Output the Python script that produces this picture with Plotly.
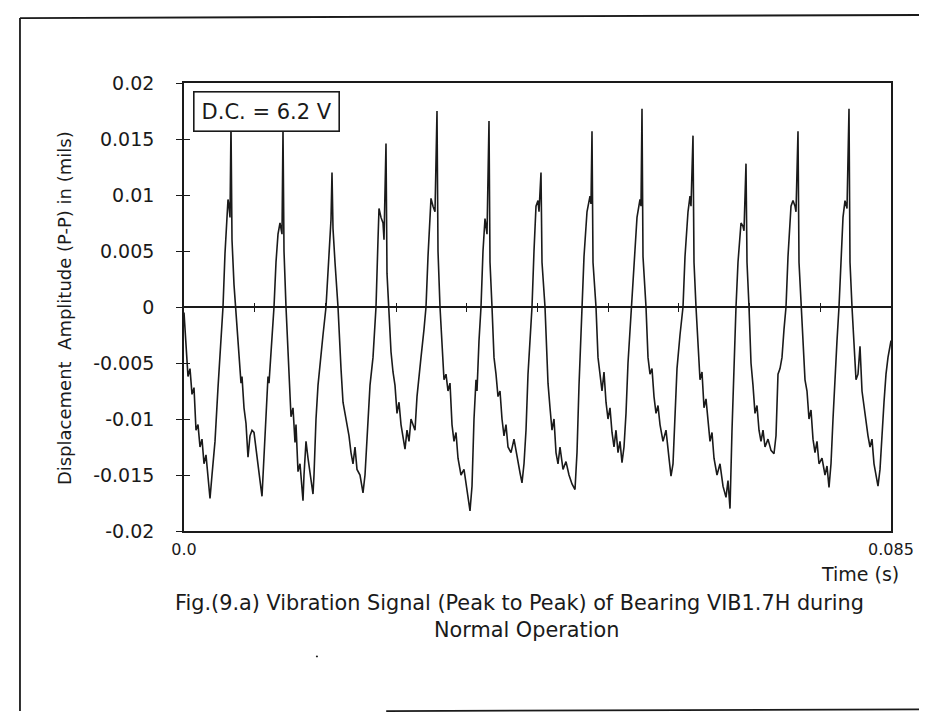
import plotly.graph_objects as go

# ---- data ----
DURATION = 0.085          # s, full record length
N_SAMPLES = 707           # sample index at end of record
SAMPLE_IDX = [0, 2, 4, 6, 8, 10, 12, 14, 16, 18, 20, 22, 24, 26, 28, 31, 34, 37, 39, 41, 43, 44, 45, 46, 47, 48, 50, 52, 54, 56, 57, 58, 60, 62, 64, 66, 68, 70, 72, 74, 76, 78, 79, 81, 83, 84, 85, 87, 90, 92, 94, 96, 97, 98, 99, 100, 102, 104, 105, 107, 109, 111, 112, 114, 116, 118, 119, 120, 122, 124, 127, 129, 130, 132, 134, 136, 139, 142, 144, 146, 147, 148, 149, 151, 154, 157, 159, 161, 163, 165, 167, 169, 171, 173, 176, 179, 181, 184, 186, 189, 192, 194, 195, 197, 199, 200, 202, 203, 205, 207, 209, 211, 213, 215, 217, 219, 221, 223, 225, 227, 229, 231, 233, 235, 237, 240, 242, 244, 246, 247, 249, 251, 253, 254, 256, 258, 260, 262, 264, 266, 268, 270, 272, 274, 277, 280, 283, 286, 288, 290, 292, 293, 295, 297, 299, 301, 302, 303, 305, 306, 308, 310, 312, 314, 316, 318, 320, 322, 324, 327, 330, 333, 336, 338, 340, 342, 344, 346, 348, 350, 352, 354, 355, 357, 358, 361, 363, 364, 366, 368, 370, 372, 374, 376, 379, 382, 385, 388, 391, 393, 395, 397, 398, 400, 403, 406, 407, 408, 409, 412, 414, 416, 418, 420, 422, 424, 426, 428, 430, 432, 434, 436, 438, 440, 442, 444, 446, 448, 450, 453, 456, 457, 458, 459, 462, 464, 466, 468, 470, 472, 474, 476, 479, 482, 485, 487, 489, 491, 493, 496, 499, 501, 504, 506, 507, 509, 510, 512, 514, 516, 518, 520, 522, 524, 526, 528, 530, 533, 536, 539, 542, 544, 546, 548, 550, 552, 554, 556, 557, 559, 560, 562, 563, 565, 567, 569, 571, 573, 575, 577, 579, 581, 584, 587, 590, 592, 594, 596, 598, 600, 602, 604, 607, 609, 611, 612, 614, 615, 617, 619, 621, 623, 625, 627, 629, 631, 633, 635, 638, 641, 643, 645, 647, 649, 651, 653, 655, 657, 659, 661, 663, 665, 666, 668, 670, 672, 674, 676, 678, 680, 682, 684, 686, 688, 690, 692, 694, 696, 698, 700, 702, 704, 707]
AMPLITUDE = [-0.0005, -0.003, -0.0062, -0.0055, -0.0078, -0.0072, -0.011, -0.0105, -0.0125, -0.0118, -0.014, -0.0132, -0.015, -0.0171, -0.015, -0.012, -0.0072, -0.003, 0.0, 0.0048, 0.0085, 0.0096, 0.009, 0.008, 0.0163, 0.006, 0.002, -0.0005, -0.0035, -0.0058, -0.0068, -0.0062, -0.009, -0.0104, -0.0134, -0.0115, -0.011, -0.0112, -0.0128, -0.014, -0.0155, -0.0169, -0.015, -0.011, -0.007, -0.0062, -0.0068, -0.004, 0.0, 0.004, 0.0065, 0.0075, 0.007, 0.0065, 0.0159, 0.005, 0.0, -0.004, -0.0055, -0.0098, -0.009, -0.0121, -0.0105, -0.0147, -0.014, -0.016, -0.0173, -0.015, -0.012, -0.0135, -0.0155, -0.0167, -0.015, -0.01, -0.007, -0.005, -0.0025, 0.0, 0.0035, 0.006, 0.0078, 0.012, 0.007, 0.004, 0.0, -0.0055, -0.0085, -0.0095, -0.0105, -0.0115, -0.013, -0.014, -0.0125, -0.0145, -0.015, -0.0166, -0.015, -0.01, -0.007, -0.0045, 0.0, 0.006, 0.0088, 0.008, 0.0075, 0.006, 0.0146, 0.003, 0.0, -0.004, -0.0058, -0.007, -0.0095, -0.0085, -0.0105, -0.0115, -0.0127, -0.011, -0.012, -0.01, -0.0105, -0.011, -0.008, -0.006, -0.0045, -0.002, 0.0, 0.0045, 0.0085, 0.0097, 0.009, 0.0085, 0.0175, 0.005, 0.0, -0.004, -0.0065, -0.006, -0.0075, -0.0068, -0.0105, -0.012, -0.0112, -0.0135, -0.015, -0.0145, -0.0165, -0.0182, -0.016, -0.01, -0.0065, -0.0075, -0.003, 0.0, 0.005, 0.0079, 0.0072, 0.0065, 0.0166, 0.004, 0.0, -0.0045, -0.006, -0.008, -0.0075, -0.01, -0.0115, -0.0105, -0.0125, -0.013, -0.0118, -0.0135, -0.0148, -0.0157, -0.014, -0.011, -0.006, -0.003, 0.0, 0.005, 0.009, 0.0095, 0.0085, 0.012, 0.004, 0.0, -0.0055, -0.0068, -0.009, -0.011, -0.01, -0.013, -0.014, -0.0125, -0.0145, -0.0138, -0.015, -0.0158, -0.0163, -0.013, -0.007, -0.002, 0.0, 0.0045, 0.0085, 0.0099, 0.0092, 0.0157, 0.004, 0.0, -0.0045, -0.006, -0.0075, -0.0058, -0.0085, -0.01, -0.009, -0.0112, -0.0125, -0.011, -0.013, -0.012, -0.0139, -0.0125, -0.0095, -0.005, -0.002, 0.0, 0.004, 0.008, 0.0096, 0.009, 0.0177, 0.0045, 0.0, -0.0045, -0.006, -0.0055, -0.008, -0.0095, -0.0088, -0.0105, -0.012, -0.011, -0.0135, -0.0151, -0.014, -0.01, -0.0055, -0.0025, 0.0, 0.0045, 0.0085, 0.0099, 0.009, 0.0153, 0.004, 0.0, -0.004, -0.0065, -0.0058, -0.009, -0.0082, -0.0105, -0.012, -0.0112, -0.0135, -0.015, -0.014, -0.016, -0.017, -0.0155, -0.018, -0.011, -0.005, 0.0, 0.004, 0.007, 0.0075, 0.0072, 0.0068, 0.0128, 0.004, 0.0, -0.005, -0.007, -0.0095, -0.0088, -0.011, -0.012, -0.011, -0.0125, -0.0118, -0.0128, -0.0131, -0.0115, -0.006, -0.0055, -0.0045, -0.002, 0.0, 0.0045, 0.009, 0.0095, 0.009, 0.0085, 0.0157, 0.004, 0.0, -0.004, -0.0065, -0.0075, -0.01, -0.0092, -0.0118, -0.013, -0.012, -0.014, -0.0135, -0.015, -0.0142, -0.0161, -0.014, -0.01, -0.006, -0.003, 0.0, 0.0045, 0.008, 0.0095, 0.0088, 0.0177, 0.004, 0.0, -0.004, -0.0065, -0.006, -0.0035, -0.0075, -0.009, -0.0105, -0.0115, -0.0125, -0.0118, -0.014, -0.015, -0.016, -0.0145, -0.011, -0.0085, -0.006, -0.0045, -0.003]

Y_TICKS = [0.02, 0.015, 0.01, 0.005, 0.0, -0.005, -0.01, -0.015, -0.02]
Y_TICK_TEXT = ["0.02", "0.015", "0.01", "0.005", "0", "-0.005", "-0.01", "-0.015", "-0.02"]
X_TICKS = [0.0, 0.085]
X_TICK_TEXT = ["0.0", "0.085"]
ZERO_LINE_TICKS = [0.0085, 0.017, 0.0255, 0.034, 0.0425, 0.051, 0.0595, 0.068, 0.0765]

DC_TEXT = "D.C. = 6.2 V"
Y_TITLE = "Displacement  Amplitude (P-P) in (mils)"
X_TITLE = "Time (s)"
CAPTION_1 = "Fig.(9.a) Vibration Signal (Peak to Peak) of Bearing VIB1.7H during"
CAPTION_2 = "Normal Operation"

dt = DURATION / N_SAMPLES
t = [i * dt for i in SAMPLE_IDX]

FONT = "DejaVu Sans, Verdana, sans-serif"
INK = "#1a1a1a"

fig = go.Figure()
fig.add_trace(go.Scatter(x=t, y=AMPLITUDE, mode="lines",
                         line=dict(color=INK, width=1.6), hoverinfo="skip",
                         showlegend=False))
# helper traces so the overlay axes are drawn
fig.add_trace(go.Scatter(x=[None], y=[None], xaxis="x2", yaxis="y", showlegend=False, hoverinfo="skip"))
fig.add_trace(go.Scatter(x=[None], y=[None], xaxis="x3", yaxis="y", showlegend=False, hoverinfo="skip"))
fig.add_trace(go.Scatter(x=[None], y=[None], xaxis="x", yaxis="y2", showlegend=False, hoverinfo="skip"))

rng_x = [0, DURATION]
rng_y = [-0.02, 0.02]

fig.update_layout(
    width=927, height=712,
    margin=dict(l=176, r=44, t=75, b=189),
    paper_bgcolor="white", plot_bgcolor="white",
    showlegend=False,
    xaxis=dict(range=rng_x, showgrid=False, zeroline=False, showline=True,
               linecolor=INK, linewidth=1.6, mirror=True, ticks="",
               tickvals=X_TICKS, ticktext=X_TICK_TEXT,
               tickfont=dict(family=FONT, size=16, color=INK),
               ticklabelstandoff=3),
    xaxis2=dict(range=rng_x, overlaying="x", anchor="free", position=0.5,
                showgrid=False, zeroline=False, showline=True, linecolor=INK,
                linewidth=1.6, ticks="outside", ticklen=4, tickwidth=1.4,
                tickcolor=INK, tickvals=ZERO_LINE_TICKS, showticklabels=False),
    xaxis3=dict(range=rng_x, overlaying="x", anchor="free", position=0.5,
                showgrid=False, zeroline=False, showline=False,
                ticks="inside", ticklen=4, tickwidth=1.4,
                tickcolor=INK, tickvals=ZERO_LINE_TICKS, showticklabels=False),
    yaxis=dict(range=rng_y, showgrid=False, zeroline=False, showline=True,
               linecolor=INK, linewidth=1.6, mirror=True, ticks="outside",
               ticklen=6, tickwidth=1.4, tickcolor=INK,
               tickvals=Y_TICKS, ticktext=Y_TICK_TEXT,
               tickfont=dict(family=FONT, size=19, color=INK),
               ticklabelstandoff=18),
    yaxis2=dict(range=rng_y, overlaying="y", anchor="x", side="left",
                showgrid=False, zeroline=False, showline=False,
                ticks="inside", ticklen=6, tickwidth=1.4, tickcolor=INK,
                tickvals=Y_TICKS, showticklabels=False),
)

ann = []
ann.append(dict(text=DC_TEXT, xref="paper", yref="paper", x=0.0127, y=0.982,
                xanchor="left", yanchor="top", showarrow=False,
                font=dict(family=FONT, size=21, color=INK),
                bordercolor=INK, borderwidth=1.6, borderpad=7, bgcolor="white"))
ann.append(dict(text=Y_TITLE, xref="paper", yref="paper", x=-0.168, y=0.498,
                xanchor="center", yanchor="middle", textangle=-90, showarrow=False,
                font=dict(family=FONT, size=18, color=INK)))
ann.append(dict(text=X_TITLE, xref="paper", yref="paper", x=1.014, y=-0.095,
                xanchor="right", yanchor="middle", showarrow=False,
                font=dict(family=FONT, size=19, color=INK)))
ann.append(dict(text=CAPTION_1, xref="paper", yref="paper", x=0.475, y=-0.160,
                xanchor="center", yanchor="middle", showarrow=False,
                font=dict(family=FONT, size=20.8, color=INK)))
ann.append(dict(text=CAPTION_2, xref="paper", yref="paper", x=0.485, y=-0.220,
                xanchor="center", yanchor="middle", showarrow=False,
                font=dict(family=FONT, size=20.8, color=INK)))
fig.update_layout(annotations=ann)

# outer page frame and a stray scan speck
frame = dict(color=INK, width=1.8)
fig.add_shape(type="line", xref="paper", yref="paper", x0=-0.232, x1=1.07, y0=1.145, y1=1.152, line=frame)
fig.add_shape(type="line", xref="paper", yref="paper", x0=-0.232, x1=-0.232, y0=1.145, y1=-0.402, line=frame)
fig.add_shape(type="line", xref="paper", yref="paper", x0=0.286, x1=1.07, y0=-0.402, y1=-0.398, line=frame)
fig.add_shape(type="circle", xref="paper", yref="paper", x0=0.1865, x1=0.1895, y0=-0.278, y1=-0.282,
              fillcolor=INK, line=dict(width=0))

fig.write_html("out.html")
